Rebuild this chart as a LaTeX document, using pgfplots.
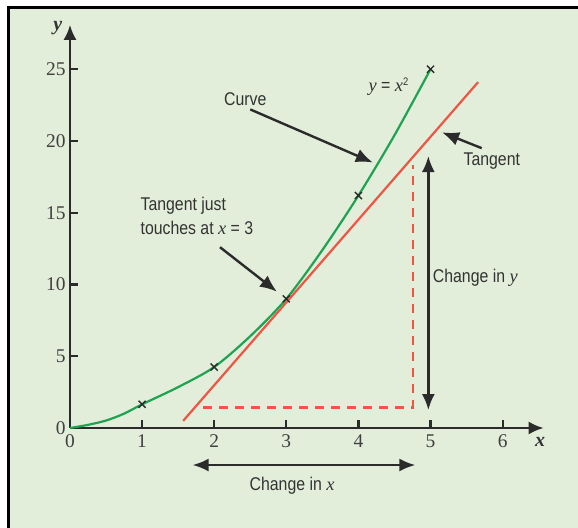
\documentclass[border=0pt]{standalone}
\usepackage{pgfplots}
\pgfplotsset{compat=1.18}
\usepackage{fontspec}
\setmainfont{Liberation Sans}[FakeStretch=0.86]
\newfontfamily\serif{Liberation Serif}
\usetikzlibrary{arrows.meta}

\definecolor{bggreen}{HTML}{E2EED9}
\definecolor{curvegreen}{HTML}{1FA352}
\definecolor{tanred}{HTML}{EE5545}
\definecolor{ink}{HTML}{2B2B2B}

\newcommand{\lbl}{\fontsize{18.5}{24}\selectfont}
\newcommand{\vx}{{\serif\itshape x}}

\begin{document}
\begin{tikzpicture}[x=1bp,y=1bp]
% page and frame
\useasboundingbox (-70,-100) rectangle (508,428);
\fill[white] (-70,-100) rectangle (508,428);
\fill[bggreen] (-61,-100) rectangle (508,420.5);
\draw[line width=3bp] (-61,-100) -- (-61,420.5) -- (508,420.5);

\begin{axis}[
  at={(0,0)}, anchor=origin,
  x=72.1bp, y=14.35bp,
  xmin=0, xmax=6.57,
  ymin=0, ymax=28.1,
  axis lines=left,
  axis line style={line width=2.6bp, draw=ink, -{Latex[length=15bp,width=13bp]}},
  xtick={0,1,...,6},
  ytick={0,5,...,25},
  tick style={line width=2.2bp, draw=ink},
  major tick length=8bp,
  tick align=inside,
  /pgf/number format/assume math mode=true,
  ticklabel style={font=\serif\fontsize{19.5}{19.5}\selectfont, text=black!75},
  x tick label style={yshift=-3bp},
  y tick label style={xshift=-1bp},
  clip=false,
]

% the curve y = x^2
\addplot[curvegreen, line width=2.2bp, smooth] coordinates {
  (0,0) (0.25,0.22) (0.5,0.52) (0.75,1.0) (1,1.65) (1.5,2.85) (2,4.25) (2.5,6.4)
  (3,9) (3.5,12.4) (4,16.2) (4.5,20.4) (5,25)
};
\addplot[only marks, mark=x, mark size=5bp, mark options={line width=1.4bp, draw=ink}] coordinates {
  (1,1.65) (2,4.25) (3,9) (4,16.2) (5,25)
};

% tangent at x = 3
\addplot[tanred, line width=2.2bp] coordinates {(1.57,0.5) (5.66,24.1)};

% change in x / change in y triangle
\addplot[tanred, line width=2.4bp, dash pattern=on 9bp off 7bp] coordinates {
  (1.85,1.42) (4.76,1.42) (4.76,18.3)
};

% arrows
\draw[ink, line width=2.4bp, {Latex[length=16bp,width=13bp]}-{Latex[length=16bp,width=13bp]}]
  (4.97,1.25) -- (4.97,18.95);
\draw[ink, line width=2.4bp, {Latex[length=16bp,width=13bp]}-{Latex[length=16bp,width=13bp]}]
  (1.70,-2.58) -- (4.79,-2.58);
\draw[ink, line width=2.4bp, -{Latex[length=17bp,width=14bp]}] (2.50,22.2) -- (4.20,18.5);
\draw[ink, line width=2.4bp, -{Latex[length=17bp,width=14bp]}] (5.71,19.5) -- (5.16,20.6);
\draw[ink, line width=2.4bp, -{Latex[length=17bp,width=14bp]}] (2.08,12.6) -- (2.87,9.5);

% labels
\node[text=black!80, font=\lbl] at (2.43,22.9) {Curve};
\node[text=black!80, font=\lbl] at (4.42,23.8) {{\serif\itshape y} = {\serif\itshape x}\textsuperscript{\fontsize{11}{11}\selectfont 2}};
\node[text=black!80, font=\lbl] at (5.85,18.6) {Tangent};
\node[text=black!80, font=\lbl, anchor=west, inner sep=0pt] at (5.03,10.45) {Change in {\serif\itshape y}};
\node[text=black!80, font=\lbl] at (3.08,-4.04) {Change in \vx};
\node[text=black!80, font=\lbl, align=left, inner sep=0pt] at (1.76,14.8)
  {Tangent just\\touches at \vx\ = 3};

% axis names
\node[text=black!80] at (6.52,-1.0) {\fontsize{20}{20}\selectfont\serif\itshape\bfseries x};
\node[text=black!80] at (-0.17,27.9) {\fontsize{20}{20}\selectfont\serif\itshape\bfseries y};
\end{axis}
\end{tikzpicture}
\end{document}
